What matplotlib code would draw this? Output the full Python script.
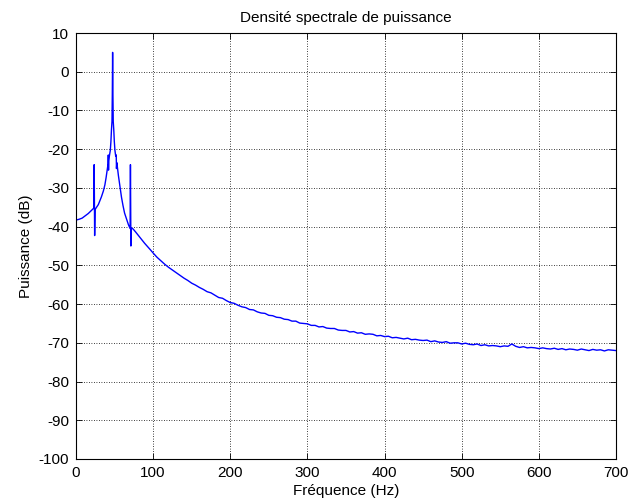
import matplotlib
matplotlib.use("Agg")
import matplotlib.pyplot as plt

plt.rcParams['font.family'] = ['Liberation Sans', 'DejaVu Sans']
plt.rcParams['axes.unicode_minus'] = False

# Low-frequency part of the spectrum (Hz, dB): harmonics near 24, 47.5 and 71 Hz
freq_low = [0, 4, 8, 12, 16, 20, 23.2, 23.6, 24.2, 24.8, 26, 29, 31, 33, 35.5,
            37.5, 39, 40.5, 41.6, 41.9, 42.2, 42.5, 43.5, 44.5, 45.3, 46.0, 46.7,
            47.1, 47.5, 47.9, 48.3, 49.0, 49.7, 50.5, 51.5, 52.2, 52.5, 53, 55,
            57, 59, 61, 63, 65.5, 68, 70.2, 70.6, 71.2, 71.7, 74, 77, 81, 85, 89,
            93.5, 97]
psd_low = [-38.3, -38.1, -37.8, -37.2, -36.6, -35.8, -35.2, -24.0, -42.3, -35.6,
           -35.2, -34.3, -33.3, -32.3, -30.8, -29.2, -27.4, -25.3, -23.8, -21.5,
           -25.4, -23.0, -21.5, -20.3, -18.0, -15.0, -12.8, -6.0, 5.0, -6.0,
           -12.8, -15.0, -18.0, -20.3, -21.8, -21.5, -25.0, -23.5, -26.8, -29.6,
           -32.4, -34.6, -36.5, -38.0, -39.5, -40.5, -24.0, -45.0, -40.3, -40.6,
           -41.3, -42.3, -43.3, -44.3, -45.3, -46.1]

# High-frequency tail, every 5 Hz from 100 to 700 Hz
freq_high = list(range(100, 705, 5))
psd_high = [
    -46.8, -47.9, -48.8, -49.7, -50.5, -51.2, -51.9, -52.6, -53.3, -53.9,
    -54.6, -55.1, -55.7, -56.2, -56.8, -57.1, -57.7, -58.3, -58.5, -59.1,
    -59.6, -59.8, -60.3, -60.7, -60.9, -61.4, -61.5, -62.0, -62.3, -62.4,
    -62.9, -63.0, -63.4, -63.5, -63.9, -64.0, -64.4, -64.4, -64.9, -65.0,
    -65.1, -65.5, -65.5, -65.9, -65.8, -66.2, -66.3, -66.3, -66.7, -66.8,
    -66.8, -67.2, -67.1, -67.5, -67.4, -67.8, -67.7, -67.8, -68.2, -68.1,
    -68.4, -68.3, -68.7, -68.6, -68.8, -69.0, -68.8, -69.2, -69.1, -69.3,
    -69.4, -69.3, -69.7, -69.5, -69.8, -69.9, -69.7, -70.1, -70.0, -70.0,
    -70.3, -70.1, -70.4, -70.5, -70.3, -70.7, -70.5, -70.8, -70.7, -70.8,
    -71.0, -70.8, -70.9, -70.3, -70.9, -71.2, -71.0, -71.3, -71.2, -71.3,
    -71.5, -71.3, -71.5, -71.6, -71.4, -71.7, -71.5, -71.8, -71.6, -71.7,
    -71.9, -71.6, -71.8, -72.0, -71.7, -71.9, -71.8, -72.1, -71.8, -71.9,
    -72.0,
]

freq = freq_low + freq_high
psd = psd_low + psd_high

x_ticks = [0, 100, 200, 300, 400, 500, 600, 700]
y_ticks = [-100, -90, -80, -70, -60, -50, -40, -30, -20, -10, 0, 10]

fig = plt.figure(figsize=(6.31, 5.04), dpi=100)
ax = fig.add_axes([0.1204, 0.0893, 0.8558, 0.8452])

ax.plot(freq, psd, color=(0, 0, 1), linewidth=1.0)

ax.set_xlim(0, 700)
ax.set_ylim(-100, 10)
ax.set_xticks(x_ticks)
ax.set_yticks(y_ticks)
ax.grid(True, color='black', linestyle=(0, (1, 2)), linewidth=0.6)
ax.tick_params(direction='in', top=True, right=True, length=4, width=0.6,
               labelsize=11, pad=5)
for s in ax.spines.values():
    s.set_linewidth(0.8)

ax.set_title('Densité spectrale de puissance', fontsize=11, pad=8)
ax.set_xlabel('Fréquence (Hz)', fontsize=11, labelpad=3)
ax.set_ylabel('Puissance (dB)', fontsize=11, labelpad=4)

fig.savefig('out.png', dpi=100)
